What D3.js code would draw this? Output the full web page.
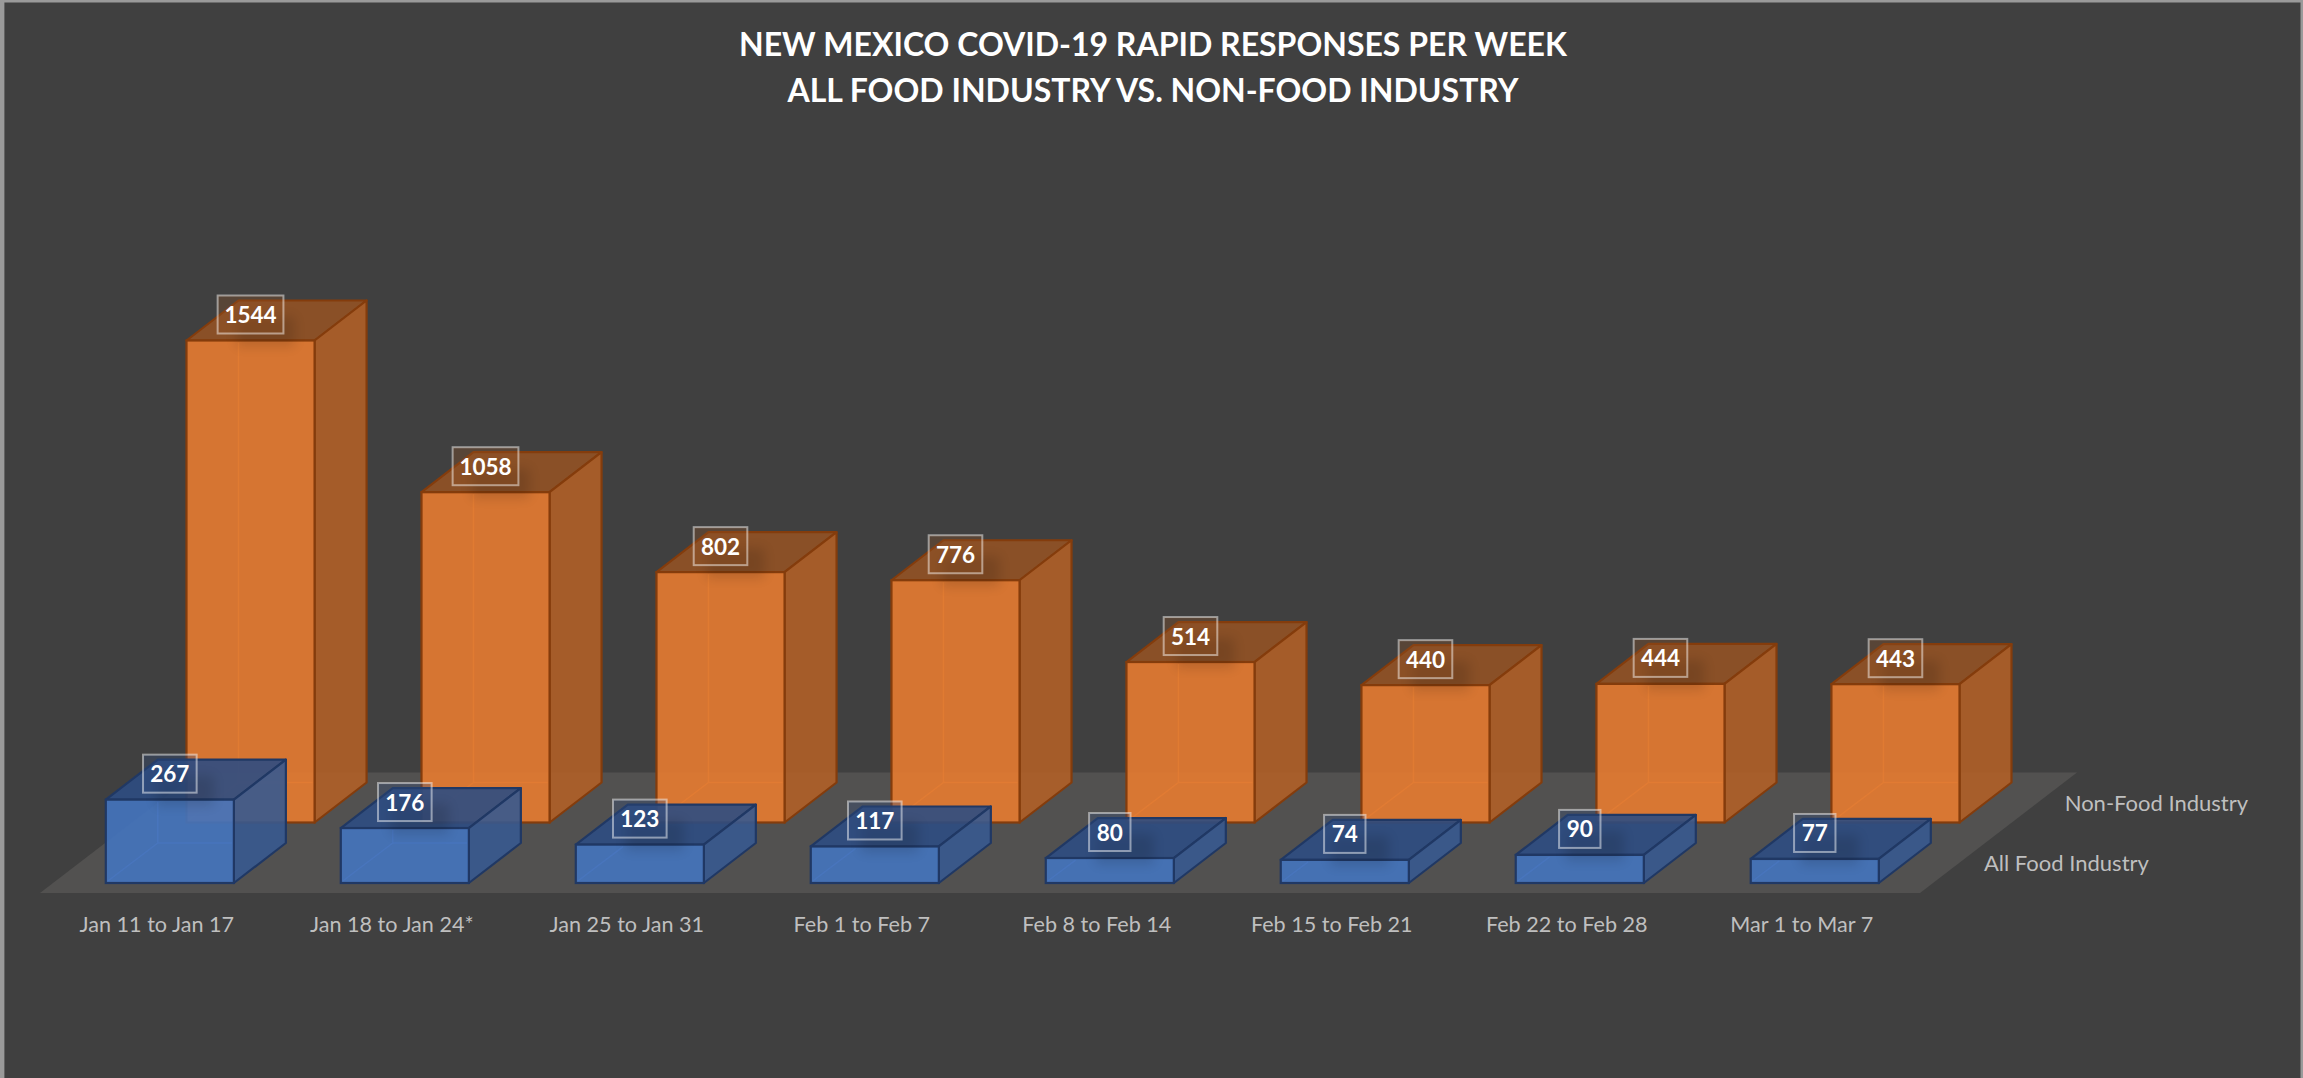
<!DOCTYPE html>
<html>
<head>
<meta charset="utf-8">
<script src="https://cdn.jsdelivr.net/npm/d3@7"></script>
<style>
    html, body { margin: 0; padding: 0; background: #404040; overflow: hidden; }
    text { font-family: Lato, "Open Sans", sans-serif; }
</style>
</head>
<body>
<div id="chart"></div>
<script>
// Données du graphique
const categories = ["Jan 11 to Jan 17", "Jan 18 to Jan 24*", "Jan 25 to Jan 31", "Feb 1 to Feb 7",
    "Feb 8 to Feb 14", "Feb 15 to Feb 21", "Feb 22 to Feb 28", "Mar 1 to Mar 7"];
const seriesNames = ["All Food Industry", "Non-Food Industry"];
const foodValues = [267, 176, 123, 117, 80, 74, 90, 77];
const nonFoodValues = [1544, 1058, 802, 776, 514, 440, 444, 443];
const titleLines = ["NEW MEXICO COVID-19 RAPID RESPONSES PER WEEK", "ALL FOOD INDUSTRY VS. NON-FOOD INDUSTRY"];

const width = 2303, height = 1078;
const baseY = 883;        // bas de la face avant de la série du devant
const depthX = 52, depthY = -40;

const svg = d3.select("#chart").append("svg")
    .attr("width", width)
    .attr("height", height)
    .style("display", "block");

const defs = svg.append("defs");
defs.append("filter").attr("id", "blur")
    .attr("x", "-40%").attr("y", "-40%").attr("width", "180%").attr("height", "180%")
    .append("feGaussianBlur").attr("stdDeviation", 6);

// Échelles
const x = d3.scaleBand().domain(categories).range([105.8, 1878.8]).paddingInner(0.455).paddingOuter(0);
const h = d3.scaleLinear().domain([0, 1544]).range([0, 482]);
const seriesX = d3.scalePoint().domain(seriesNames).range([0, 80.7]);
const seriesY = d3.scalePoint().domain(seriesNames).range([0, -60.5]);

const colors = {
    "All Food Industry": { front: "#4473bb", side: "#37598f", top: "#2e4c82", edge: "#203864", inner: "#4a78c4" },
    "Non-Food Industry": { front: "#e27a31", side: "#b05f27", top: "#925225", edge: "#843c0c", inner: "#e97f33" }
};

// Fond et bordures
svg.append("rect").attr("width", width).attr("height", height).attr("fill", "#404040");
svg.append("path").attr("d", `M2.2,${height}V1H${width - 1}V${height}`)
    .attr("fill", "none").attr("stroke", "#9a9a9a").attr("stroke-width", 3);
svg.append("rect").attr("width", 4.4).attr("height", height).attr("fill", "#9a9a9a");

// Plancher
const floorLine = d3.line();
svg.append("path")
    .attr("d", floorLine([[40, 893], [1920, 893], [2077, 772.6], [197, 772.6]]) + "Z")
    .attr("fill", "#525150");

// Titre
svg.append("g").selectAll("text")
    .data(titleLines)
    .enter().append("text")
    .attr("x", 1153)
    .attr("y", (d, i) => 56 + i * 46)
    .attr("text-anchor", "middle")
    .attr("font-size", 32)
    .attr("font-weight", 700)
    .attr("fill", "#ffffff")
    .text(d => d);

// Une barre 3D par valeur
function drawBars(name, values) {
    const c = colors[name];
    const g = svg.append("g").attr("class", "series");
    const bars = g.selectAll("g")
        .data(values.map((v, i) => ({ value: v, category: categories[i] })))
        .enter().append("g");

    const w = x.bandwidth();
    const geo = d => {
        const l = x(d.category) + seriesX(name);
        const b = baseY + seriesY(name);
        const t = b - h(d.value);
        return { l, r: l + w, b, t };
    };

    bars.append("path") // dessus
        .attr("d", d => {
            const { l, r, t } = geo(d);
            return `M${l},${t}L${l + depthX},${t + depthY}H${r + depthX}L${r},${t}Z`;
        })
        .attr("fill", c.top).attr("fill-opacity", 0.9)
        .attr("stroke", c.edge).attr("stroke-width", 2.2).attr("stroke-linejoin", "round");

    bars.append("path") // côté
        .attr("d", d => {
            const { r, b, t } = geo(d);
            return `M${r},${t}L${r + depthX},${t + depthY}V${b + depthY}L${r},${b}Z`;
        })
        .attr("fill", c.side).attr("fill-opacity", 0.9)
        .attr("stroke", c.edge).attr("stroke-width", 2.2).attr("stroke-linejoin", "round");

    bars.append("rect") // face avant
        .attr("x", d => geo(d).l)
        .attr("y", d => geo(d).t)
        .attr("width", w)
        .attr("height", d => h(d.value))
        .attr("fill", c.front).attr("fill-opacity", 0.93)
        .attr("stroke", c.edge).attr("stroke-width", 2.2);

    // arêtes intérieures vues à travers la face avant (seulement dans la face)
    bars.append("path")
        .attr("d", d => {
            const { l, r, b, t } = geo(d);
            const backY = b + depthY;
            if (backY > t + 2) {
                return `M${l + depthX},${t + 2}V${backY}H${r - 2}M${l + 2},${b - 2}L${l + depthX},${backY}`;
            }
            // barre basse : la diagonale s'arrête au haut de la face
            const k = (b - t - 2) / -depthY;
            return `M${l + 2},${b - 2}L${l + depthX * k},${t + 2}`;
        })
        .attr("fill", "none")
        .attr("stroke", c.inner)
        .attr("stroke-opacity", 0.55)
        .attr("stroke-width", 1.5);

    // ombre floue sous l'étiquette
    bars.append("rect")
        .attr("x", d => geo(d).l + w / 2 - 14)
        .attr("y", d => geo(d).t - 24)
        .attr("width", 58)
        .attr("height", 30)
        .attr("fill", "#000000")
        .attr("opacity", 0.13)
        .attr("filter", "url(#blur)");

    // étiquettes de valeur
    const labels = bars.append("g")
        .attr("transform", d => `translate(${geo(d).l + w / 2},${geo(d).t - 26})`);

    labels.append("rect")
        .attr("x", d => -(String(d.value).length * 12.2 + 17) / 2)
        .attr("y", -19)
        .attr("width", d => String(d.value).length * 12.2 + 17)
        .attr("height", 38)
        .attr("fill", c.top)
        .attr("fill-opacity", 0.3)
        .attr("stroke", "#ffffff")
        .attr("stroke-opacity", 0.48)
        .attr("stroke-width", 2);

    labels.append("text")
        .attr("y", 8.5)
        .attr("text-anchor", "middle")
        .attr("font-size", 22.5)
        .attr("font-weight", 700)
        .attr("fill", "#ffffff")
        .text(d => d.value);
}

drawBars("Non-Food Industry", nonFoodValues);
drawBars("All Food Industry", foodValues);

// Étiquettes de l'axe des catégories
svg.append("g").selectAll("text")
    .data(categories)
    .enter().append("text")
    .attr("x", d => x(d) + x.bandwidth() / 2 - 13)
    .attr("y", 932)
    .attr("text-anchor", "middle")
    .attr("font-size", 21.6)
    .attr("fill", "#bfbfbf")
    .text(d => d);

// Étiquettes de l'axe des séries
svg.append("g").selectAll("text")
    .data(seriesNames)
    .enter().append("text")
    .attr("x", d => 1984 + seriesX(d))
    .attr("y", d => 871 + seriesY(d))
    .attr("font-size", 22)
    .attr("fill", "#bfbfbf")
    .text(d => d);
</script>
</body>
</html>
